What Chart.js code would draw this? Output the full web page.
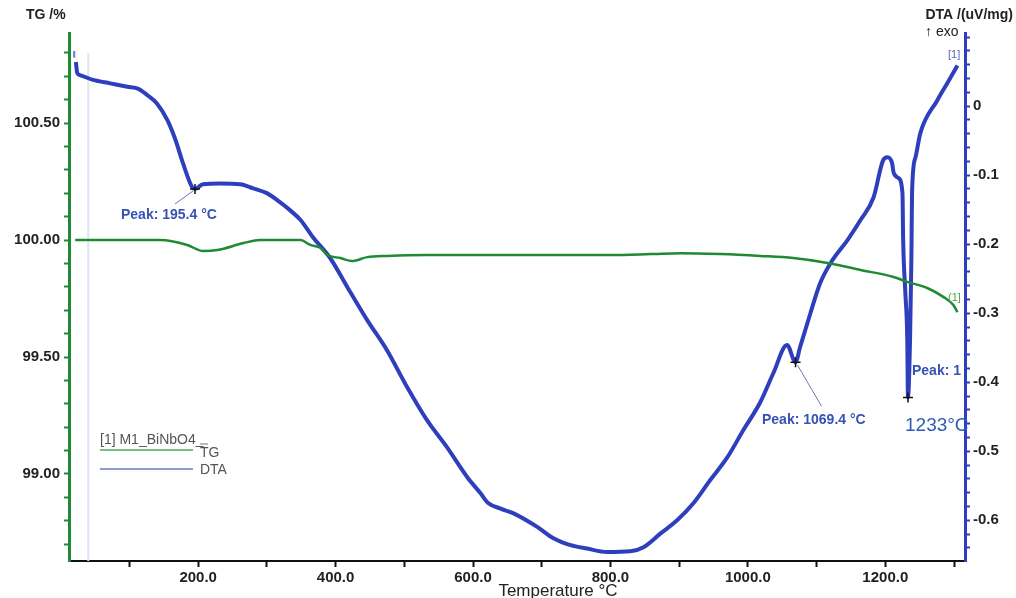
<!DOCTYPE html>
<html lang="en">
<head>
  <meta charset="UTF-8" />
  <title>TG / DTA – M1_BiNbO4</title>
  <script src="https://cdn.jsdelivr.net/npm/chart.js"></script>
  <style>
    html, body { margin: 0; padding: 0; background: #fff; }
    #wrap { width: 1016px; height: 598px; position: relative; }
  </style>
</head>
<body>
  <div id="wrap"><canvas id="chart"></canvas></div>

  <script>
    // DTA curve (uV/mg) vs temperature (°C)
    const tempDTA = [22, 24, 28, 47, 72, 97, 113, 126, 140, 155, 167, 178, 191, 195.4, 207, 232, 261, 280, 300, 319,
      334, 349, 367, 392, 417, 446, 475, 504, 533, 562, 592, 611, 622, 640, 659, 694, 717, 742, 766, 795,
      829, 848, 873, 897, 921, 945, 970, 993, 1018, 1037, 1057, 1069.4, 1076, 1091, 1105, 1120, 1145, 1164, 1183, 1197,
      1203, 1210, 1212, 1219, 1225, 1226, 1229, 1232, 1233, 1236, 1238, 1239, 1244, 1251, 1276, 1290, 1305];
    const dta = [0.064, 0.048, 0.045, 0.038, 0.033, 0.028, 0.025, 0.016, 0.004, -0.020, -0.049, -0.083, -0.117, -0.120, -0.113, -0.112, -0.113, -0.119, -0.126, -0.139,
      -0.151, -0.165, -0.190, -0.220, -0.262, -0.310, -0.354, -0.407, -0.455, -0.494, -0.538, -0.561, -0.575, -0.583, -0.590, -0.610, -0.626, -0.636, -0.641, -0.646,
      -0.645, -0.639, -0.619, -0.600, -0.575, -0.542, -0.509, -0.470, -0.429, -0.387, -0.346, -0.371, -0.349, -0.300, -0.257, -0.228, -0.194, -0.165, -0.132, -0.078,
      -0.074, -0.083, -0.096, -0.104, -0.126, -0.194, -0.267, -0.339, -0.422, -0.339, -0.219, -0.122, -0.074, -0.039, 0.009, 0.033, 0.059];

    // short detached DTA trace at the very start
    const tempDTAstart = [19.5, 19.6];
    const dtaStart = [0.080, 0.070];

    // TG curve (%) vs temperature (°C)
    const tempTG = [21, 97, 145, 184, 207, 228, 266, 290, 349, 363, 378, 388, 407, 424, 446, 475, 533, 698, 800, 858,
      902, 960, 1018, 1066, 1116, 1164, 1212, 1232, 1261, 1285, 1299, 1305];
    const tg = [100.00, 100.00, 100.00, 99.979, 99.953, 99.957, 99.987, 100.00, 100.00, 99.979, 99.966, 99.936, 99.923, 99.910, 99.927, 99.932, 99.936, 99.936, 99.936, 99.940,
      99.944, 99.940, 99.932, 99.923, 99.902, 99.872, 99.842, 99.821, 99.795, 99.756, 99.722, 99.692];

    // marked peaks on the DTA curve
    const peakTemps = [195.4, 1069.4, 1233];
    const peakDTA = [-0.120, -0.371, -0.422];

    // faint cursor line near the start
    const cursorTemp = 40;

    // axis ticks
    const xTicks = [100, 200, 300, 400, 500, 600, 700, 800, 900, 1000, 1100, 1200, 1300];
    const xLabelled = [200, 400, 600, 800, 1000, 1200];
    const tgTicks = [98.7, 98.8, 98.9, 99.0, 99.1, 99.2, 99.3, 99.4, 99.5, 99.6, 99.7, 99.8, 99.9,
      100.0, 100.1, 100.2, 100.3, 100.4, 100.5, 100.6, 100.7, 100.8];
    const tgLabelled = [99.0, 99.5, 100.0, 100.5];
    const dtaLabelled = [0, -0.1, -0.2, -0.3, -0.4, -0.5, -0.6];
    const dtaTicks = [];
    for (let i = 5; i >= -32; i--) dtaTicks.push(i / 50);

    const has = (list, v) => list.some(t => Math.abs(t - v) < 1e-6);

    const BLUE = '#2e3fbd';
    const GREEN = '#1f8a34';
    const TXT = '#222';
    const tickFont = { family: 'Liberation Sans, Arial, sans-serif', size: 15, weight: 'bold' };

    const cursorLine = {
      id: 'cursorLine',
      beforeDatasetsDraw(chart) {
        const { ctx, chartArea: a } = chart;
        const cx = chart.scales.x.getPixelForValue(cursorTemp);
        ctx.save();
        ctx.strokeStyle = '#dbe6f2';
        ctx.lineWidth = 2;
        ctx.beginPath();
        ctx.moveTo(cx, a.top + 20);
        ctx.lineTo(cx, a.bottom);
        ctx.stroke();
        ctx.restore();
      }
    };

    const overlay = {
      id: 'overlay',
      afterDraw(chart) {
        const { ctx, chartArea: a } = chart;
        const x = chart.scales.x, y = chart.scales.yDTA;
        ctx.save();

        // axis titles
        ctx.fillStyle = TXT;
        ctx.font = 'bold 14px Liberation Sans, Arial, sans-serif';
        ctx.textBaseline = 'alphabetic';
        ctx.textAlign = 'left';
        ctx.fillText('TG /%', 26, 19);
        ctx.textAlign = 'right';
        ctx.fillText('DTA /(uV/mg)', 1013, 19);
        ctx.font = '14px Liberation Sans, Arial, sans-serif';
        ctx.textAlign = 'left';
        ctx.fillText('\u2191 exo', 925, 36);
        ctx.font = '17px Liberation Sans, Arial, sans-serif';
        ctx.textAlign = 'center';
        ctx.fillText('Temperature \u00B0C', 558, 596);

        // peak markers
        const px = peakTemps.map(t => x.getPixelForValue(t));
        const py = peakDTA.map(v => y.getPixelForValue(v));
        ctx.strokeStyle = '#111';
        ctx.lineWidth = 1.5;
        px.forEach((p, i) => {
          ctx.beginPath();
          ctx.moveTo(p - 5, py[i]); ctx.lineTo(p + 5, py[i]);
          ctx.moveTo(p, py[i] - 5); ctx.lineTo(p, py[i] + 5);
          ctx.stroke();
        });

        // leader lines
        ctx.strokeStyle = '#6a78b8';
        ctx.lineWidth = 1;
        ctx.beginPath();
        ctx.moveTo(px[0] - 2, py[0] + 2); ctx.lineTo(px[0] - 20, py[0] + 15);
        ctx.moveTo(px[1] + 2, py[1] + 3); ctx.lineTo(px[1] + 26, py[1] + 44);
        ctx.stroke();

        // peak labels
        ctx.fillStyle = '#3552b5';
        ctx.font = 'bold 14px Liberation Sans, Arial, sans-serif';
        ctx.textAlign = 'left';
        ctx.fillText('Peak: 195.4 \u00B0C', 121, 219);
        ctx.fillText('Peak: 1069.4 \u00B0C', 762, 424);
        ctx.save();
        ctx.beginPath();
        ctx.rect(a.left, a.top, a.right - a.left - 2, a.bottom - a.top);
        ctx.clip();
        ctx.fillText('Peak: 1', 912, 375);
        ctx.restore();
        ctx.fillStyle = '#2d5cb3';
        ctx.font = '19px Liberation Sans, Arial, sans-serif';
        ctx.fillText('1233\u00B0C', 905, 431);

        // curve tags
        ctx.font = '11px Liberation Sans, Arial, sans-serif';
        ctx.fillStyle = '#5565c8';
        ctx.fillText('[1]', 948, 58);
        ctx.fillStyle = '#4aa24a';
        ctx.fillText('(1]', 948, 301);

        // legend
        ctx.fillStyle = '#555';
        ctx.font = '14px Liberation Sans, Arial, sans-serif';
        ctx.fillText('[1] M1_BiNbO4_', 100, 444);
        ctx.fillText('TG', 200, 457);
        ctx.fillText('DTA', 200, 474);
        ctx.lineWidth = 1.5;
        ctx.strokeStyle = '#4caa5a';
        ctx.beginPath(); ctx.moveTo(100, 450); ctx.lineTo(193, 450); ctx.stroke();
        ctx.strokeStyle = '#6a78c0';
        ctx.beginPath(); ctx.moveTo(100, 469); ctx.lineTo(193, 469); ctx.stroke();
        ctx.strokeStyle = '#777';
        ctx.lineWidth = 1;
        ctx.beginPath(); ctx.moveTo(200, 444); ctx.lineTo(208, 444); ctx.stroke();

        ctx.restore();
      }
    };

    const ctx = document.getElementById('chart');
    new Chart(ctx, {
      type: 'line',
      data: {
        datasets: [
          {
            label: 'TG',
            data: tempTG.map((t, i) => ({ x: t, y: tg[i] })),
            yAxisID: 'yTG',
            borderColor: GREEN,
            borderWidth: 2.5,
            pointRadius: 0,
            cubicInterpolationMode: 'monotone'
          },
          {
            label: 'DTA',
            data: tempDTA.map((t, i) => ({ x: t, y: dta[i] })),
            yAxisID: 'yDTA',
            borderColor: BLUE,
            borderWidth: 4,
            pointRadius: 0,
            cubicInterpolationMode: 'monotone'
          },
          {
            label: 'DTA start',
            data: tempDTAstart.map((t, i) => ({ x: t, y: dtaStart[i] })),
            yAxisID: 'yDTA',
            borderColor: '#6a7cd0',
            borderWidth: 2,
            pointRadius: 0
          }
        ]
      },
      options: {
        responsive: true,
        maintainAspectRatio: false,
        animation: false,
        layout: { padding: { top: 33, left: 0, right: 0, bottom: 0 } },
        plugins: { legend: { display: false }, tooltip: { enabled: false } },
        scales: {
          x: {
            type: 'linear',
            min: 12,
            max: 1316,
            afterBuildTicks: s => { s.ticks = xTicks.map(v => ({ value: v })); },
            afterFit: s => { s.height = 37; },
            border: { color: '#111', width: 2 },
            grid: { drawOnChartArea: false, color: '#111', tickLength: 6, tickWidth: 2 },
            ticks: {
              color: TXT, font: tickFont, padding: 2, maxRotation: 0, autoSkip: false,
              callback: v => has(xLabelled, v) ? v.toFixed(1) : ''
            }
          },
          yTG: {
            type: 'linear',
            position: 'left',
            min: 98.628,
            max: 100.885,
            afterBuildTicks: s => { s.ticks = tgTicks.map(v => ({ value: v })); },
            afterFit: s => { s.width = 69; },
            border: { color: GREEN, width: 3 },
            grid: { drawOnChartArea: false, color: GREEN, tickLength: 5, tickWidth: 2 },
            ticks: {
              color: TXT, font: tickFont, padding: 4, autoSkip: false,
              callback: v => has(tgLabelled, v) ? v.toFixed(2) : ''
            }
          },
          yDTA: {
            type: 'linear',
            position: 'right',
            min: -0.659,
            max: 0.106,
            afterBuildTicks: s => { s.ticks = dtaTicks.map(v => ({ value: v })); },
            afterFit: s => { s.width = 51; },
            border: { color: BLUE, width: 3 },
            grid: { drawOnChartArea: false, color: BLUE, tickLength: 5, tickWidth: 2 },
            ticks: {
              color: TXT, font: tickFont, padding: 3, autoSkip: false,
              callback: v => has(dtaLabelled, v) ? (Math.abs(v) < 1e-9 ? '0' : v.toFixed(1)) : ''
            }
          }
        }
      },
      plugins: [cursorLine, overlay]
    });
  </script>
</body>
</html>
